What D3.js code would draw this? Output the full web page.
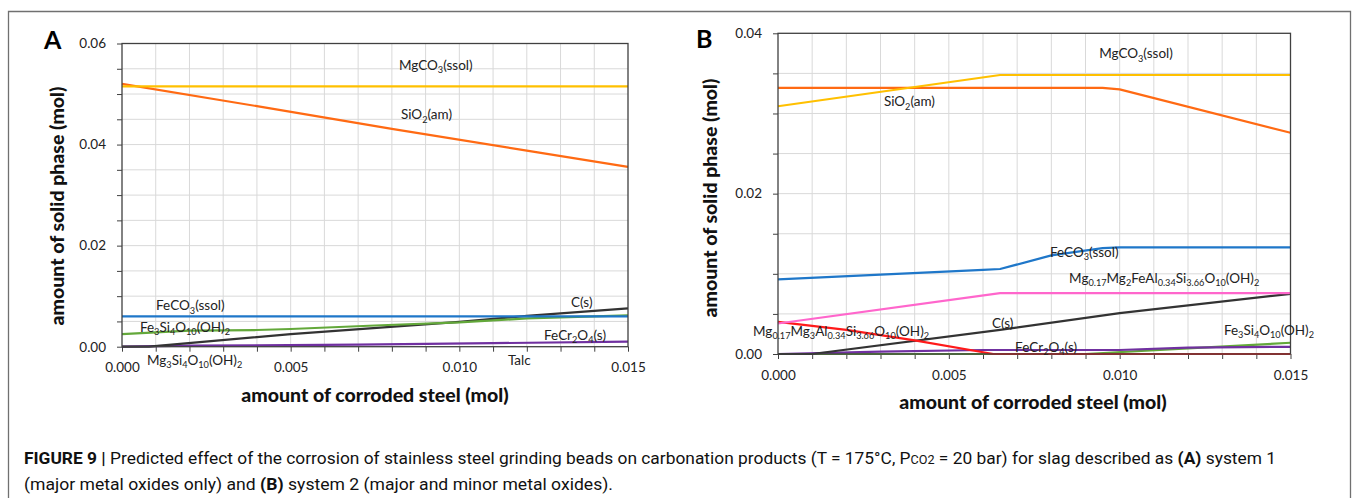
<!doctype html>
<html lang="en">
<head>
<meta charset="UTF-8">
<script src="https://cdnjs.cloudflare.com/ajax/libs/d3/7.8.5/d3.min.js"></script>
<title>Figure 9</title>
<style>
  body { margin: 0; background: #fff; }
  text { font-family: Lato, "Open Sans", sans-serif; }
</style>
</head>
<body>
<div id="viz_area"></div>
<script>
    // ---- data: panel A (system 1), points are [steel mol, solid mol]
    const aMgCO3 = [[0, 0.0515], [0.015, 0.0515]];
    const aSiO2 = [[0, 0.0520], [0.004, 0.0476], [0.008, 0.0431], [0.012, 0.0388], [0.015, 0.0356]];
    const aFeCO3 = [[0, 0.0060], [0.015, 0.0060]];
    const aFe3Si4 = [[0, 0.0025], [0.002, 0.0032], [0.004, 0.0033], [0.005, 0.0035], [0.0075, 0.0042], [0.010, 0.0048], [0.012, 0.0056], [0.015, 0.0062]];
    const aC = [[0, 0], [0.0008, 0], [0.005, 0.0025], [0.010, 0.0049], [0.012, 0.0061], [0.015, 0.0076]];
    const aFeCr2O4 = [[0, 0], [0.002, 0.0002], [0.007, 0.0004], [0.011, 0.0007], [0.015, 0.0010]];

    // ---- data: panel B (system 2)
    const bMgCO3 = [[0, 0.0309], [0.0065, 0.0348], [0.015, 0.0348]];
    const bSiO2 = [[0, 0.0332], [0.0095, 0.0332], [0.010, 0.0330], [0.015, 0.0276]];
    const bFeCO3 = [[0, 0.0093], [0.006, 0.0105], [0.0065, 0.0106], [0.008, 0.0123], [0.0095, 0.0132], [0.010, 0.0133], [0.015, 0.0133]];
    const bMgFeAl = [[0, 0.0038], [0.0065, 0.0076], [0.015, 0.0076]];
    const bC = [[0, 0], [0.001, 0], [0.0065, 0.0030], [0.010, 0.0051], [0.015, 0.0075]];
    const bMgAl = [[0, 0.0040], [0.002, 0.0030], [0.004, 0.0017], [0.0063, 0], [0.015, 0]];
    const bFeCr2O4 = [[0, 0], [0.003, 0.0003], [0.006, 0.0005], [0.010, 0.0005], [0.012, 0.0008], [0.015, 0.0009]];
    const bFe3Si4 = [[0, 0], [0.009, 0], [0.012, 0.0007], [0.015, 0.0014]];

    // ---- tick labels
    const xLabels = [0, 0.005, 0.010, 0.015];
    const aYLabels = [0, 0.02, 0.04, 0.06];
    const bYLabels = [0, 0.02, 0.04];

    // ---- curve labels: [text, x, y] in data units (subscripts in _{})
    const aNames = [
        ["MgCO_{3}(ssol)", 0.00821, 0.0548],
        ["SiO_{2}(am)", 0.00827, 0.0450],
        ["FeCO_{3}(ssol)", 0.00101, 0.00726],
        ["Fe_{3}Si_{4}O_{10}(OH)_{2}", 0.00053, 0.00291],
        ["C(s)", 0.01331, 0.00786],
        ["FeCr_{2}O_{4}(s)", 0.01251, 0.00133],
        ["Mg_{3}Si_{4}O_{10}(OH)_{2}", 0.00074, -0.00362],
        ["Talc", 0.01144, -0.00362]
    ];
    const bNames = [
        ["MgCO_{3}(ssol)", 0.00940, 0.0369],
        ["SiO_{2}(am)", 0.00310, 0.0309],
        ["FeCO_{3}(ssol)", 0.00796, 0.0121],
        ["Mg_{0.17}Mg_{2}FeAl_{0.34}Si_{3.66}O_{10}(OH)_{2}", 0.00852, 0.00886],
        ["C(s)", 0.00626, 0.00324],
        ["Mg_{0.17}Mg_{3}Al_{0.34}Si_{3.66}O_{10}(OH)_{2}", -0.00073, 0.00225],
        ["FeCr_{2}O_{4}(s)", 0.00694, 0.00025],
        ["Fe_{3}Si_{4}O_{10}(OH)_{2}", 0.01305, 0.00237]
    ];

    const col = {
        mgco3: "#ffc000", sio2: "#ff6a13", feco3: "#1f77c9", fe3si4: "#63a83a",
        c: "#333333", fecr: "#7030a0", pink: "#ff66cc", red: "#ff1a1a"
    };

    const svg = d3.select("#viz_area")
        .append("svg")
        .attr("width", 1354)
        .attr("height", 498);

    // outer frame (open at the bottom)
    svg.append("path")
        .attr("d", "M8.5,498V11.5H1350.5V498")
        .attr("fill", "none")
        .attr("stroke", "#707070")
        .attr("stroke-width", 1.3);

    function formula(sel, str, size) {
        const parts = str.split(/(_\{[^}]*\})/).filter(p => p !== "");
        let sub = false;
        parts.forEach(p => {
            const isSub = p.startsWith("_{");
            const t = sel.append("tspan").text(isSub ? p.slice(2, -1) : p);
            if (isSub) {
                t.attr("font-size", size * 0.68);
                if (!sub) t.attr("dy", 3.5);
            } else if (sub) {
                t.attr("dy", -3.5);
            }
            sub = isSub;
        });
    }

    function panel(opt) {
        const x = d3.scaleLinear().domain([0, 0.015]).range([opt.left, opt.right]);
        const y = d3.scaleLinear().domain([0, opt.ymax]).range([opt.bottom, opt.top]);
        const g = svg.append("g");

        const xGrid = d3.range(1, 15).map(i => i * 0.001);
        const yGrid = d3.range(1, Math.round(opt.ymax / 0.005)).map(i => i * 0.005);

        g.selectAll(".vg").data(xGrid).join("line")
            .attr("x1", d => x(d)).attr("x2", d => x(d))
            .attr("y1", opt.top).attr("y2", opt.bottom)
            .attr("stroke", "#d9d9d9").attr("stroke-width", 1);
        g.selectAll(".hg").data(yGrid).join("line")
            .attr("x1", opt.left).attr("x2", opt.right)
            .attr("y1", d => y(d)).attr("y2", d => y(d))
            .attr("stroke", "#d9d9d9").attr("stroke-width", 1);

        const near = (arr, d) => arr.some(v => Math.abs(v - d) < 1e-9);

        const xAxis = d3.axisBottom(x)
            .tickValues(d3.range(0, 16).map(i => i * 0.001))
            .tickFormat(d => near(xLabels, d) ? d3.format(".3f")(d) : "")
            .tickSize(5).tickPadding(11);
        const yAxis = d3.axisLeft(y)
            .tickValues(d3.range(0, Math.round(opt.ymax / 0.005) + 1).map(i => i * 0.005))
            .tickFormat(d => near(opt.yLabels, d) ? d3.format(".2f")(d) : "")
            .tickSize(5).tickPadding(11);

        const ax = g.append("g").attr("transform", `translate(0,${opt.bottom})`).call(xAxis);
        const ay = g.append("g").attr("transform", `translate(${opt.left},0)`).call(yAxis);
        [ax, ay].forEach(a => {
            a.select(".domain").remove();
            a.selectAll(".tick line").attr("stroke", "#404040");
            a.selectAll(".tick text")
                .attr("font-family", "Lato, sans-serif")
                .attr("font-size", 13.5)
                .attr("fill", "#222");
        });

        const line = d3.line().x(d => x(d[0])).y(d => y(d[1]));
        opt.series.forEach(s => {
            g.append("path")
                .datum(s[0])
                .attr("d", line)
                .attr("fill", "none")
                .attr("stroke", s[1])
                .attr("stroke-width", 2.2)
                .attr("stroke-linejoin", "round");
        });

        g.append("rect")
            .attr("x", opt.left).attr("y", opt.top)
            .attr("width", opt.right - opt.left).attr("height", opt.bottom - opt.top)
            .attr("fill", "none").attr("stroke", "#404040").attr("stroke-width", 1.3);

        opt.names.forEach(n => {
            const t = g.append("text")
                .attr("x", x(n[1])).attr("y", y(n[2]))
                .attr("font-size", 13.5)
                .attr("fill", "#222");
            formula(t, n[0], 13.5);
        });

        g.append("text")
            .attr("x", opt.letter[0]).attr("y", opt.letter[1])
            .attr("font-family", "Liberation Sans, Arial, sans-serif")
            .attr("font-weight", "bold").attr("font-size", 25)
            .text(opt.letterText);

        g.append("text")
            .attr("x", opt.xTitle[0]).attr("y", opt.xTitle[1])
            .attr("text-anchor", "middle")
            .attr("font-weight", "900").attr("font-size", 19.5)
            .attr("fill", "#111")
            .text("amount of corroded steel (mol)");

        g.append("text")
            .attr("transform", `translate(${opt.yTitle[0]},${opt.yTitle[1]}) rotate(-90)`)
            .attr("text-anchor", "middle")
            .attr("font-weight", "900").attr("font-size", 19.5)
            .attr("fill", "#111")
            .text("amount of solid phase (mol)");
    }

    panel({
        left: 122, right: 628, top: 43.5, bottom: 346.7, ymax: 0.06,
        yLabels: aYLabels,
        series: [[aFeCr2O4, col.fecr], [aC, col.c], [aFe3Si4, col.fe3si4], [aFeCO3, col.feco3],
                 [aSiO2, col.sio2], [aMgCO3, col.mgco3]],
        names: aNames,
        letter: [44, 49], letterText: "A",
        xTitle: [375, 402], yTitle: [64, 206]
    });

    panel({
        left: 778, right: 1290.5, top: 33.3, bottom: 354, ymax: 0.04,
        yLabels: bYLabels,
        series: [[bFe3Si4, col.fe3si4], [bFeCr2O4, col.fecr], [bC, col.c], [bMgAl, col.red],
                 [bMgFeAl, col.pink], [bFeCO3, col.feco3], [bSiO2, col.sio2], [bMgCO3, col.mgco3]],
        names: bNames,
        letter: [696, 48], letterText: "B",
        xTitle: [1033, 409], yTitle: [717, 198]
    });

    // caption
    const cap = svg.append("g")
        .attr("font-size", 16.5)
        .attr("fill", "#111");
    const c1 = cap.append("text")
        .attr("x", 24).attr("y", 463.5)
        .attr("textLength", 1252).attr("lengthAdjust", "spacingAndGlyphs")
        .style("font-family", "Roboto, sans-serif");
    c1.append("tspan").attr("font-weight", "bold").text("FIGURE 9 | ");
    c1.append("tspan").text("Predicted effect of the corrosion of stainless steel grinding beads on carbonation products (T = 175°C, P");
    c1.append("tspan").attr("font-size", 12).text("CO2");
    c1.append("tspan").text(" = 20 bar) for slag described as ");
    c1.append("tspan").attr("font-weight", "bold").text("(A)");
    c1.append("tspan").text(" system 1");

    const c2 = cap.append("text")
        .attr("x", 24).attr("y", 489.5)
        .attr("textLength", 589).attr("lengthAdjust", "spacingAndGlyphs")
        .style("font-family", "Roboto, sans-serif");
    c2.append("tspan").text("(major metal oxides only) and ");
    c2.append("tspan").attr("font-weight", "bold").text("(B)");
    c2.append("tspan").text(" system 2 (major and minor metal oxides).");
</script>
</body>
</html>
